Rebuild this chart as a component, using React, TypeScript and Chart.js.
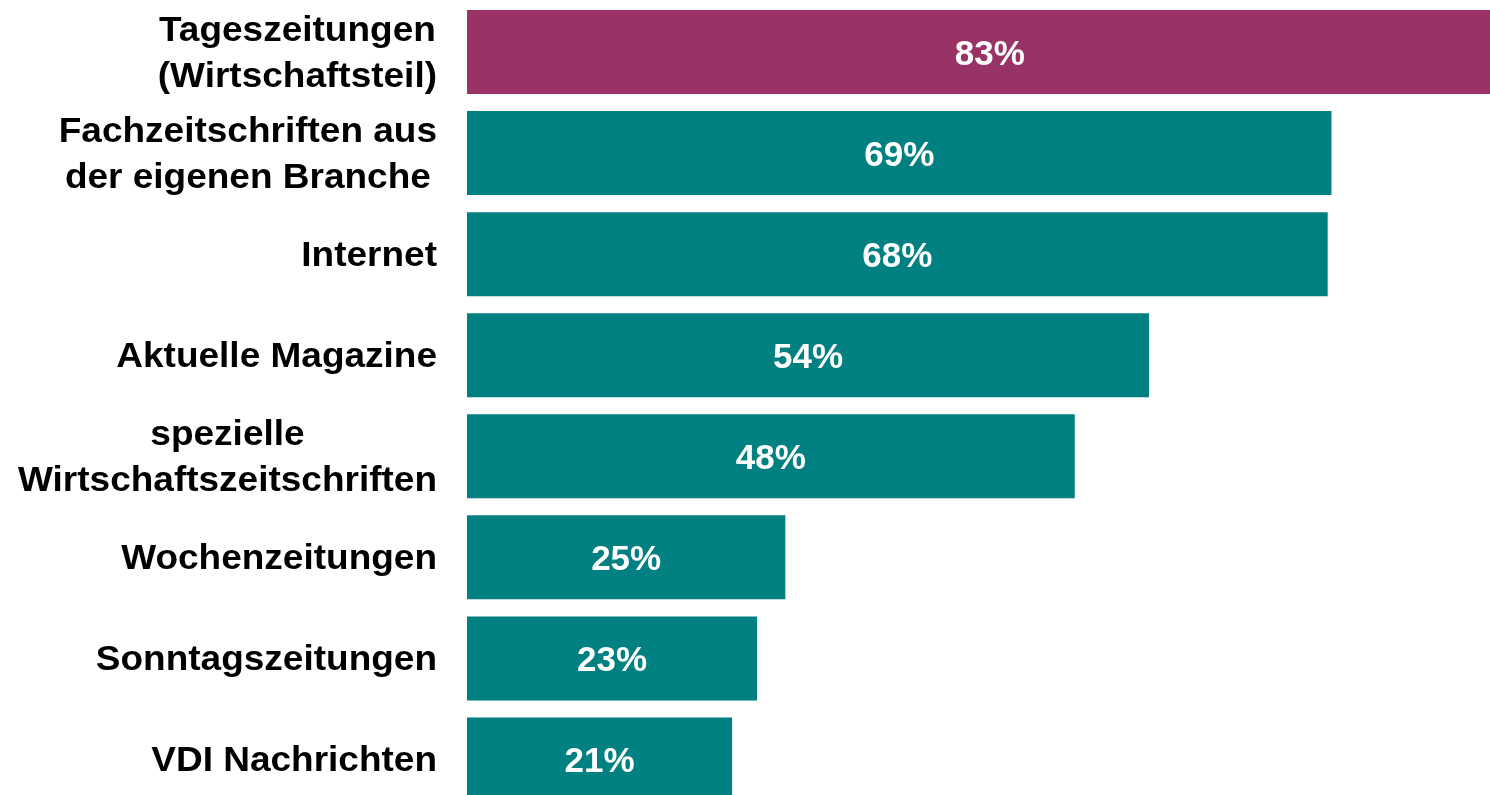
import React, { useEffect, useRef } from "react";
import { Chart, registerables } from "chart.js";

Chart.register(...registerables);

// Category labels (each entry = lines of the label)
const categories: string[][] = [
  ["Tageszeitungen", "(Wirtschaftsteil)"],
  ["Fachzeitschriften aus", "der eigenen Branche"],
  ["Internet"],
  ["Aktuelle Magazine"],
  ["spezielle", "Wirtschaftszeitschriften"],
  ["Wochenzeitungen"],
  ["Sonntagszeitungen"],
  ["VDI Nachrichten"],
];

// Values in percent
const values: number[] = [83.1, 68.7, 68.4, 54.2, 48.3, 25.3, 23.05, 21.07];

// Displayed value labels
const valueLabels: string[] = ["83%", "69%", "68%", "54%", "48%", "25%", "23%", "21%"];

const barColors: string[] = [
  "#993366",
  "#008080",
  "#008080",
  "#008080",
  "#008080",
  "#008080",
  "#008080",
  "#008080",
];

const FONT = '"Liberation Sans", Arial, sans-serif';

const labelPlugin = {
  id: "customLabels",
  afterDatasetsDraw(chart: any) {
    const ctx: CanvasRenderingContext2D = chart.ctx;
    const meta = chart.getDatasetMeta(0);
    const yScale = chart.scales.y;
    const area = chart.chartArea;
    ctx.save();
    // category labels
    ctx.fillStyle = "#000000";
    ctx.font = `bold 35px ${FONT}`;
    ctx.textBaseline = "alphabetic";
    ctx.textAlign = "center";
    const sx = 1.057;
    const rightEdge = area.left - 30;
    const lineGap = 46;
    categories.forEach((lines, i) => {
      const cy = yScale.getPixelForValue(i);
      const widths = lines.map((l) => ctx.measureText(l).width * sx);
      const blockW = Math.max(...widths);
      const centerX = rightEdge - blockW / 2;
      const n = lines.length;
      lines.forEach((line, j) => {
        const ly = cy + (j - (n - 1) / 2) * lineGap + 12;
        ctx.save();
        ctx.translate(centerX, ly);
        ctx.scale(sx, 1);
        ctx.fillText(line, 0, 0);
        ctx.restore();
      });
    });
    // value labels
    ctx.fillStyle = "#ffffff";
    ctx.textAlign = "center";
    meta.data.forEach((bar: any, i: number) => {
      const { x, base, y } = bar.getProps(["x", "base", "y"], true);
      ctx.fillText(valueLabels[i], (x + base) / 2, y + 12.5);
    });
    ctx.restore();
  },
};

export default function App() {
  const canvasRef = useRef<HTMLCanvasElement | null>(null);

  useEffect(() => {
    if (!canvasRef.current) return;
    const chart = new Chart(canvasRef.current, {
      type: "bar",
      data: {
        labels: categories.map((c) => c.join(" ")),
        datasets: [
          {
            data: values,
            backgroundColor: barColors,
            borderWidth: 0,
            barPercentage: 0.8317,
            categoryPercentage: 1,
            clip: false as any,
          },
        ],
      },
      options: {
        indexAxis: "y",
        responsive: false,
        maintainAspectRatio: false,
        animation: false,
        devicePixelRatio: 1,
        layout: { padding: { left: 467, right: 0, top: 1.5, bottom: 0 } },
        plugins: {
          legend: { display: false },
          tooltip: { enabled: false },
        },
        scales: {
          x: { display: false, min: 0, max: 81.3 },
          y: { display: false },
        },
      },
      plugins: [labelPlugin],
    });
    return () => chart.destroy();
  }, []);

  return (
    <div
      style={{
        position: "fixed",
        left: 0,
        top: 0,
        width: 1490,
        height: 795,
        overflow: "hidden",
        background: "#ffffff",
      }}
    >
      <canvas ref={canvasRef} width={1490} height={810} style={{ display: "block" }} />
    </div>
  );
}
